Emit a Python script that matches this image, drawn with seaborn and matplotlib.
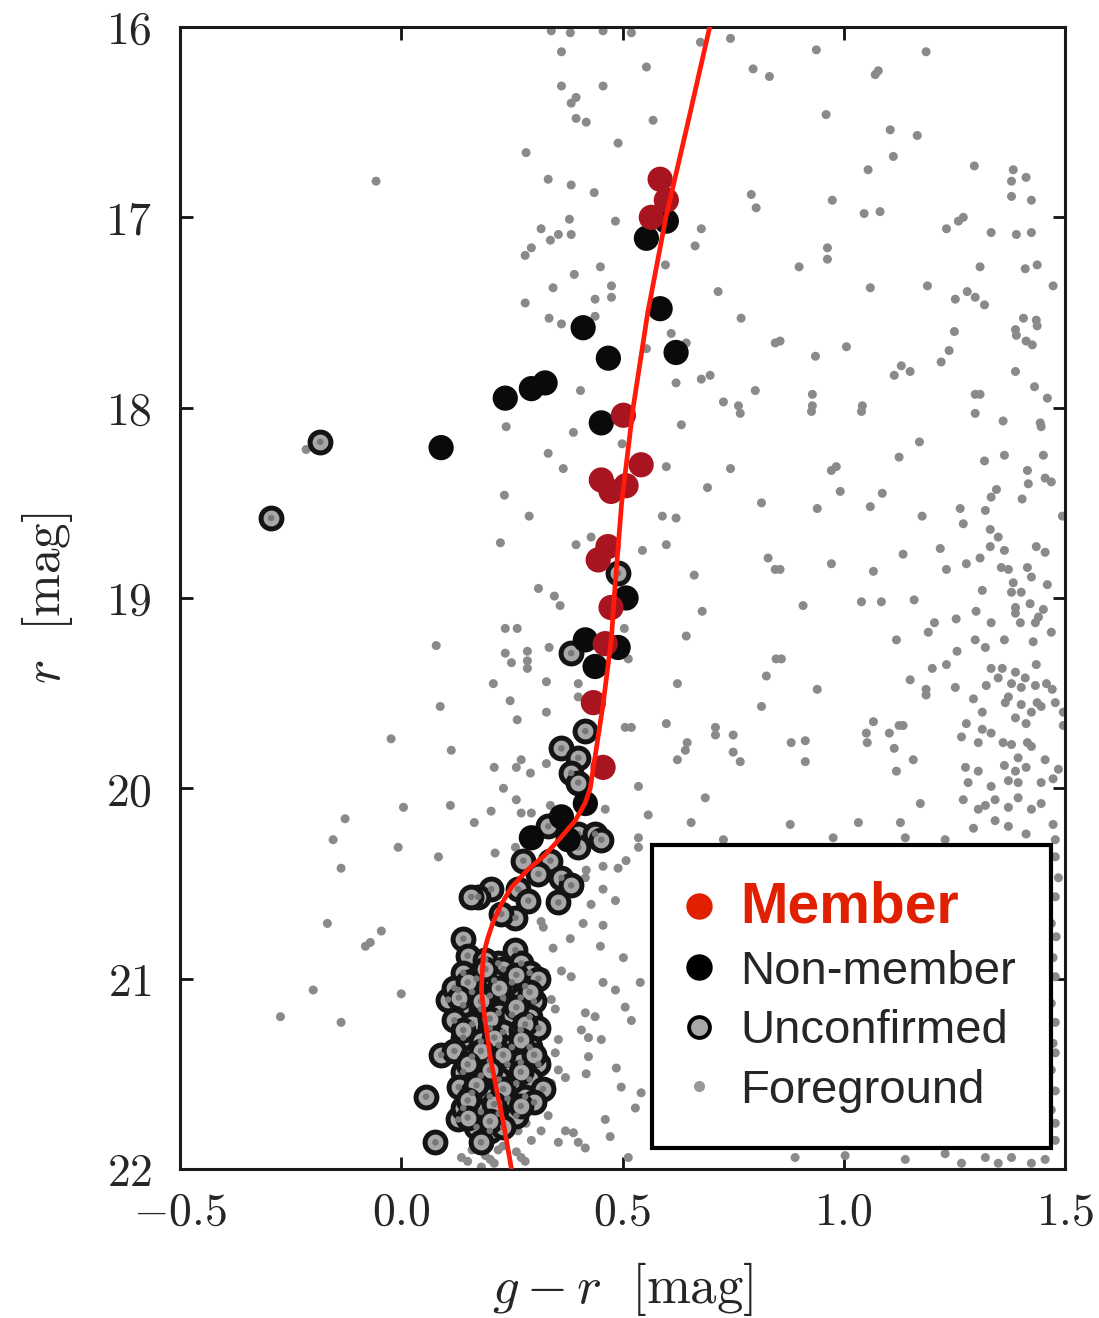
import numpy as np
import pandas as pd
import matplotlib
matplotlib.use("Agg")
import matplotlib.pyplot as plt
import seaborn as sns
from matplotlib.lines import Line2D
from matplotlib.ticker import FuncFormatter

sns.set_style("ticks")
plt.rcParams['font.family'] = ['Liberation Sans', 'DejaVu Sans']
plt.rcParams['mathtext.fontset'] = 'cm'

# ---------------- data ----------------
# isochrone (g-r, r)
iso_g_r = [0.697, 0.648, 0.598, 0.557, 0.524, 0.498, 0.481, 0.475, 0.456, 0.427,
           0.415, 0.393, 0.360, 0.325, 0.285, 0.249, 0.226, 0.208, 0.195, 0.185,
           0.181, 0.190, 0.201, 0.215, 0.231, 0.249]
iso_r = [16.00, 16.50, 17.00, 17.50, 18.00, 18.50, 19.00, 19.21, 19.56, 20.00,
         20.08, 20.17, 20.26, 20.35, 20.43, 20.52, 20.61, 20.70, 20.79, 20.88,
         21.06, 21.23, 21.41, 21.58, 21.76, 22.00]

member_g_r = [0.585, 0.599, 0.565, 0.502, 0.542, 0.452, 0.508, 0.474, 0.467, 0.445,
              0.474, 0.461, 0.434, 0.456]
member_r = [16.80, 16.91, 17.00, 18.04, 18.30, 18.38, 18.41, 18.44, 18.73, 18.80,
            19.05, 19.24, 19.55, 19.89]

nonmember_g_r = [0.599, 0.554, 0.585, 0.411, 0.468, 0.621, 0.235, 0.294, 0.325, 0.452,
                 0.090, 0.508, 0.416, 0.490, 0.438, 0.416, 0.294, 0.362, 0.377]
nonmember_r = [17.02, 17.11, 17.48, 17.58, 17.74, 17.71, 17.95, 17.90, 17.87, 18.08,
               18.21, 19.00, 19.22, 19.26, 19.36, 20.08, 20.26, 20.15, 20.27]

unconf_g_r = [-0.183, -0.294, 0.490, 0.384, 0.416, 0.362, 0.400, 0.384, 0.400,
              0.332, 0.400, 0.438, 0.452, 0.400, 0.276, 0.337, 0.310, 0.362, 0.384,
              0.203, 0.174, 0.264, 0.287, 0.355, 0.258, 0.226, 0.258, 0.271, 0.219,
              0.158, 0.140, 0.106, 0.129, 0.090, 0.056, 0.077, 0.129,
              0.15, 0.19, 0.23, 0.29, 0.14, 0.17, 0.21, 0.25, 0.28, 0.31,
              0.12, 0.16, 0.20, 0.23, 0.27, 0.30, 0.14, 0.18, 0.22, 0.25,
              0.29, 0.12, 0.16, 0.20, 0.23, 0.27, 0.31, 0.14, 0.18, 0.22,
              0.25, 0.29, 0.12, 0.16, 0.20, 0.24, 0.27, 0.31, 0.14, 0.18,
              0.22, 0.26, 0.29, 0.32, 0.13, 0.16, 0.20, 0.24, 0.28, 0.30,
              0.14, 0.18, 0.22, 0.26, 0.17, 0.20, 0.23, 0.18,
              0.19, 0.26, 0.15, 0.22, 0.29, 0.13, 0.18, 0.26, 0.20, 0.28,
              0.14, 0.21, 0.27, 0.18, 0.23, 0.30, 0.15, 0.20, 0.27, 0.17,
              0.23, 0.15, 0.21, 0.27, 0.20, 0.15]
unconf_r = [18.18, 18.58, 18.87, 19.29, 19.70, 19.79, 19.84, 19.92, 19.97,
            20.20, 20.24, 20.24, 20.27, 20.31, 20.38, 20.38, 20.45, 20.47, 20.51,
            20.53, 20.57, 20.53, 20.59, 20.60, 20.68, 20.66, 20.85, 20.92, 20.92,
            20.57, 20.79, 21.11, 21.06, 21.40, 21.62, 21.86, 21.74,
            20.88, 20.90, 20.95, 20.97, 20.97, 21.00, 21.01, 21.02, 21.04, 21.00,
            21.05, 21.07, 21.09, 21.10, 21.10, 21.12, 21.14, 21.16, 21.18, 21.19,
            21.20, 21.22, 21.24, 21.26, 21.28, 21.27, 21.26, 21.31, 21.33, 21.35,
            21.36, 21.36, 21.38, 21.41, 21.43, 21.45, 21.44, 21.45, 21.49, 21.51,
            21.53, 21.55, 21.53, 21.58, 21.57, 21.60, 21.62, 21.63, 21.62, 21.65,
            21.68, 21.70, 21.71, 21.72, 21.78, 21.80, 21.78, 21.86,
            20.95, 20.98, 21.02, 21.05, 21.07, 21.10, 21.12, 21.15, 21.21, 21.24,
            21.27, 21.31, 21.32, 21.38, 21.40, 21.40, 21.45, 21.48, 21.49, 21.56,
            21.58, 21.64, 21.66, 21.67, 21.75, 21.73]

# foreground stars, bright part (r < 18)
fg_bright_g_r = [-0.057, 0.362, 0.382, 0.456, 0.520, 0.339, 0.676, 0.744, 0.554, 0.795,
                 0.832, 0.362, 0.456, 0.395, 0.384, 0.395, 0.418, 0.569, 0.490, 0.282,
                 0.332, 0.384, 0.436, 0.791, 0.802, 0.380, 0.484, 0.316, 0.355, 0.384,
                 0.337, 0.678, 0.664, 0.294, 0.280, 0.597, 0.450, 0.391, 0.343, 0.475,
                 0.716, 0.280, 0.438, 0.475, 0.334, 0.362, 0.438, 0.768, 0.610, 0.644,
                 0.845, 0.554, 0.621, 0.678, 0.698, 0.405, 0.800, 0.728, 0.762,
                 0.938, 1.186, 1.071, 1.078, 0.960, 1.105, 1.166, 1.112, 1.055, 1.295,
                 1.383, 1.412, 1.379, 1.379, 1.424, 0.974, 1.046, 1.082, 1.232, 1.259,
                 1.270, 1.333, 1.390, 1.424, 0.963, 0.963, 0.899, 1.308, 1.410, 1.437,
                 1.473, 1.060, 1.189, 1.252, 1.279, 1.297, 1.318, 1.406, 1.435, 1.437,
                 1.388, 1.390, 1.412, 1.426, 1.250, 1.238, 1.220, 0.856, 1.006, 0.936,
                 1.130, 1.150, 1.114, 1.388, 1.431, 1.460, 1.297, 1.308, 0.929, 0.929,
                 1.042]
fg_bright_r = [16.81, 16.13, 16.03, 16.02, 16.03, 16.02, 16.08, 16.06, 16.21, 16.22,
               16.26, 16.31, 16.31, 16.37, 16.40, 16.48, 16.50, 16.49, 16.61, 16.66,
               16.80, 16.83, 16.87, 16.88, 16.95, 17.01, 17.02, 17.06, 17.09, 17.09,
               17.12, 17.06, 17.15, 17.16, 17.20, 17.25, 17.26, 17.30, 17.37, 17.36,
               17.39, 17.45, 17.43, 17.42, 17.53, 17.56, 17.52, 17.53, 17.61, 17.66,
               17.66, 17.69, 17.87, 17.85, 17.83, 17.91, 17.91, 17.97, 17.99,
               16.12, 16.13, 16.25, 16.23, 16.46, 16.54, 16.57, 16.68, 16.75, 16.73,
               16.75, 16.79, 16.81, 16.89, 16.91, 16.91, 16.98, 16.97, 17.06, 17.02,
               17.00, 17.08, 17.09, 17.08, 17.16, 17.22, 17.26, 17.26, 17.27, 17.25,
               17.36, 17.37, 17.36, 17.43, 17.39, 17.42, 17.46, 17.53, 17.54, 17.57,
               17.59, 17.62, 17.65, 17.67, 17.60, 17.70, 17.76, 17.65, 17.68, 17.73,
               17.78, 17.81, 17.83, 17.81, 17.89, 17.95, 17.93, 17.93, 17.93, 17.99,
               17.99]

# foreground stars, middle part (18 <= r < 20)
fg_mid_g_r = [0.079, 0.088, -0.023, 0.113, -0.215,
              0.237, 0.389, 0.633, 0.766, 0.499, 0.332, 0.366, 0.599, 0.744, 0.692,
              0.233, 0.814, 0.289, 0.590, 0.621, 0.224, 0.395, 0.429, 0.545, 0.599,
              0.829, 0.845, 0.662, 0.310, 0.346, 0.359, 0.680, 0.235, 0.262, 0.644,
              0.504, 0.334, 0.235, 0.249, 0.285, 0.285, 0.285, 0.513, 0.847, 0.208,
              0.328, 0.400, 0.624, 0.825, 0.246, 0.400, 0.328, 0.262, 0.814, 0.506,
              0.520, 0.599, 0.710, 0.710, 0.750, 0.646, 0.642, 0.750, 0.624, 0.766,
              0.210, 0.260, 0.271, 0.292, 0.328, 0.536, 0.231,
              0.927, 1.040, 1.297, 1.360, 1.444, 1.446, 1.171, 1.125, 1.318, 1.363,
              1.451, 1.415, 0.972, 0.983, 1.455, 1.469, 0.992, 1.087, 1.345, 1.333,
              1.417, 1.403, 0.940, 1.060, 1.263, 1.320, 1.177, 1.270, 1.494, 1.331,
              1.349, 1.218, 1.331, 1.363, 1.435, 1.455, 1.134, 1.308, 0.972, 1.067,
              1.232, 1.277, 1.356, 1.372, 1.415, 1.424, 1.383, 1.460, 1.313, 1.379,
              1.401, 0.856, 0.908, 1.040, 1.085, 1.159, 1.421, 1.388, 1.388, 1.299,
              1.254, 1.205, 1.191, 1.333, 1.451, 1.440, 1.433, 1.399, 1.469, 1.119,
              1.297, 1.363, 1.428, 1.320, 1.256, 0.859, 1.200, 1.232, 1.333, 1.358,
              1.435, 1.388, 1.349, 1.410, 1.379, 1.322, 1.150, 0.940, 1.186, 1.186,
              1.252, 1.401, 1.433, 1.458, 1.471, 1.372, 1.293, 1.365, 1.401, 1.437,
              1.446, 1.478, 1.313, 1.424, 1.388, 1.496, 1.067, 1.125, 1.134, 1.277,
              1.412, 1.496, 1.051, 1.103, 1.313, 1.333, 1.266, 0.881, 0.913, 1.053,
              1.304, 1.360, 1.379, 1.415, 1.424, 1.114, 0.913, 1.157, 1.394, 1.455,
              1.363, 1.275, 1.304, 1.119, 1.388, 1.412, 1.485, 1.281, 1.333, 1.372,
              1.394, 1.446, 1.473]
fg_mid_r = [19.25, 19.57, 19.74, 19.80, 18.22,
            18.10, 18.13, 18.09, 18.03, 18.19, 18.24, 18.32, 18.31, 18.32, 18.42,
            18.46, 18.50, 18.57, 18.57, 18.58, 18.71, 18.72, 18.68, 18.75, 18.72,
            18.79, 18.85, 18.88, 18.95, 18.99, 19.04, 19.07, 19.16, 19.16, 19.20,
            19.16, 19.26, 19.29, 19.34, 19.28, 19.33, 19.37, 19.32, 19.32, 19.45,
            19.44, 19.45, 19.45, 19.41, 19.54, 19.52, 19.60, 19.64, 19.57, 19.68,
            19.68, 19.66, 19.68, 19.72, 19.72, 19.76, 19.80, 19.81, 19.85, 19.86,
            19.89, 19.89, 19.85, 19.92, 19.87, 19.99, 20.00,
            18.02, 18.02, 18.03, 18.07, 18.08, 18.10, 18.18, 18.26, 18.28, 18.25,
            18.25, 18.33, 18.33, 18.31, 18.37, 18.39, 18.44, 18.45, 18.43, 18.47,
            18.40, 18.48, 18.53, 18.52, 18.53, 18.54, 18.57, 18.61, 18.57, 18.64,
            18.68, 18.74, 18.73, 18.75, 18.73, 18.76, 18.77, 18.79, 18.82, 18.86,
            18.85, 18.82, 18.84, 18.85, 18.84, 18.89, 18.92, 18.93, 18.96, 18.97,
            18.97, 18.85, 19.04, 19.02, 19.02, 19.01, 19.03, 19.05, 19.08, 19.07,
            19.11, 19.13, 19.18, 19.13, 19.06, 19.10, 19.13, 19.13, 19.18, 19.22,
            19.22, 19.22, 19.23, 19.26, 19.28, 19.32, 19.37, 19.35, 19.37, 19.37,
            19.35, 19.39, 19.42, 19.42, 19.45, 19.46, 19.43, 19.48, 19.48, 19.51,
            19.47, 19.47, 19.46, 19.45, 19.48, 19.52, 19.53, 19.55, 19.56, 19.55,
            19.57, 19.55, 19.60, 19.60, 19.63, 19.60, 19.65, 19.67, 19.67, 19.66,
            19.66, 19.67, 19.71, 19.71, 19.69, 19.71, 19.73, 19.76, 19.75, 19.76,
            19.76, 19.76, 19.77, 19.76, 19.78, 19.79, 19.86, 19.85, 19.84, 19.85,
            19.88, 19.89, 19.91, 19.91, 19.91, 19.89, 19.90, 19.97, 19.99, 19.96,
            19.97, 19.97, 19.95]

# foreground stars, faint part (r >= 20)
fg_faint_g_r = [0.005, 0.111, -0.127, 0.165, -0.154, -0.007, 0.084, -0.136, -0.167, -0.045,
                -0.070, -0.081, -0.199, 0.000, -0.273, -0.136, 0.136,
                0.203, 0.260, 0.271, 0.294, 0.337, 0.461, 0.558, 0.687, 0.655, 0.728,
                0.536, 0.536, 0.212, 0.258, 0.508, 0.490, 0.456, 0.418, 0.416, 0.484,
                0.456, 0.429, 0.316, 0.321, 0.411, 0.456, 0.382, 0.343, 0.450, 0.502,
                0.325, 0.362, 0.384, 0.456, 0.484, 0.540, 0.339, 0.348, 0.506, 0.416,
                0.438, 0.520, 0.310, 0.407, 0.423, 0.452, 0.355, 0.348, 0.328, 0.423,
                0.486, 0.355, 0.371, 0.418, 0.497, 0.339, 0.542, 0.529, 0.310, 0.332,
                0.282, 0.461, 0.264, 0.316, 0.371, 0.389, 0.400, 0.416, 0.294, 0.355,
                0.472, 0.513, 0.197, 0.219, 0.271, 0.201, 0.181,
                0.16, 0.19, 0.23, 0.26, 0.21, 0.28, 0.15,
                1.173, 1.270, 1.304, 1.320, 1.342, 1.372, 1.394, 1.424, 1.446, 1.342,
                1.372, 1.412, 1.293, 0.879, 1.033, 1.128, 1.139, 1.229, 0.976, 1.473,
                1.478, 1.478, 1.485, 1.478, 1.469, 1.480, 1.473, 1.478, 1.469, 1.478,
                1.473, 1.478, 1.469, 1.478, 1.469, 1.478, 1.478, 0.890, 1.003, 1.139,
                1.229, 1.266, 1.320, 1.349, 1.379, 1.424, 1.455]
fg_faint_r = [20.10, 20.09, 20.16, 20.18, 20.27, 20.31, 20.36, 20.42, 20.71, 20.75,
              20.81, 20.83, 21.06, 21.08, 21.20, 21.23, 21.94,
              20.12, 20.06, 20.13, 20.13, 20.09, 20.11, 20.14, 20.05, 20.18, 20.27,
              20.26, 20.31, 20.34, 20.31, 20.38, 20.42, 20.41, 20.43, 20.47, 20.59,
              20.53, 20.61, 20.70, 20.73, 20.71, 20.72, 20.79, 20.84, 20.83, 20.89,
              20.97, 20.96, 20.99, 21.02, 21.06, 21.02, 21.11, 21.16, 21.15, 21.18,
              21.20, 21.22, 21.23, 21.27, 21.31, 21.32, 21.32, 21.39, 21.43, 21.41,
              21.47, 21.48, 21.52, 21.50, 21.57, 21.55, 21.60, 21.68, 21.69, 21.72,
              21.76, 21.74, 21.80, 21.80, 21.80, 21.81, 21.86, 21.89, 21.85, 21.86,
              21.83, 21.94, 21.85, 21.90, 21.94, 21.95, 21.99,
              21.90, 21.93, 21.88, 21.91, 21.97, 21.96, 21.96,
              20.08, 20.06, 20.11, 20.09, 20.06, 20.10, 20.05, 20.11, 20.08, 20.17,
              20.20, 20.24, 20.21, 20.19, 20.18, 20.18, 20.26, 20.27, 20.26, 20.19,
              20.27, 20.36, 20.47, 20.57, 20.71, 20.78, 20.89, 20.99, 21.13, 21.23,
              21.34, 21.39, 21.48, 21.59, 21.69, 21.76, 21.85, 21.94, 21.93, 21.95,
              21.92, 21.97, 21.94, 21.97, 21.94, 21.97, 21.95]

x_ticks = [-0.5, 0.0, 0.5, 1.0, 1.5]
y_ticks = [16, 17, 18, 19, 20, 21, 22]
legend_labels = ["Member", "Non-member", "Unconfirmed", "Foreground"]

# ---------------- frames ----------------
fg = pd.DataFrame({"g_r": fg_bright_g_r + fg_mid_g_r + fg_faint_g_r,
                   "r": fg_bright_r + fg_mid_r + fg_faint_r})
unc = pd.DataFrame({"g_r": unconf_g_r, "r": unconf_r})
non = pd.DataFrame({"g_r": nonmember_g_r, "r": nonmember_r})
mem = pd.DataFrame({"g_r": member_g_r, "r": member_r})
iso = pd.DataFrame({"g_r": iso_g_r, "r": iso_r})

# ---------------- figure ----------------
fig = plt.figure(figsize=(10.99, 13.18), dpi=100)
ax = fig.add_axes([0.1638, 0.1131, 0.8053, 0.8664])

sns.scatterplot(data=fg, x="g_r", y="r", s=42, color="#8a8a8a", edgecolor="none",
                ax=ax, zorder=2, legend=False)
sns.scatterplot(data=unc, x="g_r", y="r", s=225, color="#a8a8a8", edgecolor="#141414",
                linewidth=3.6, ax=ax, zorder=3, legend=False)
sns.scatterplot(data=unc, x="g_r", y="r", s=22, color="#777777", edgecolor="none",
                ax=ax, zorder=3.1, legend=False)
sns.scatterplot(data=non, x="g_r", y="r", s=330, color="#0a0a0a", edgecolor="none",
                ax=ax, zorder=4, legend=False)
sns.scatterplot(data=mem, x="g_r", y="r", s=330, color="#a8141f", edgecolor="none",
                ax=ax, zorder=5, legend=False)
sns.lineplot(data=iso, x="g_r", y="r", sort=False, estimator=None, color="#ff1a0a",
             linewidth=3.4, ax=ax, zorder=6)

ax.set_xlim(-0.5, 1.5)
ax.set_ylim(22, 16)
ax.set_xticks(x_ticks)
ax.set_yticks(y_ticks)
ax.xaxis.set_major_formatter(FuncFormatter(lambda v, p: r"$%.1f$" % v))
ax.yaxis.set_major_formatter(FuncFormatter(lambda v, p: r"$%d$" % v))
ax.tick_params(direction="in", length=9, width=2.0, top=True, right=True,
               labelsize=33, color="#111111")
ax.tick_params(axis="y", pad=20)
ax.tick_params(axis="x", pad=16)
for sp in ax.spines.values():
    sp.set_linewidth(2.2)
    sp.set_color("#1a1a1a")

ax.set_xlabel(r"$g - r\ \ [\mathrm{mag}]$", fontsize=38, labelpad=18)
ax.set_ylabel(r"$r\ \ [\mathrm{mag}]$", fontsize=37, labelpad=22)

handles = [
    Line2D([], [], ls="none", marker="o", markersize=19, markerfacecolor="#e02000",
           markeredgecolor="none"),
    Line2D([], [], ls="none", marker="o", markersize=19, markerfacecolor="#000000",
           markeredgecolor="none"),
    Line2D([], [], ls="none", marker="o", markersize=15, markerfacecolor="#a8a8a8",
           markeredgecolor="#000000", markeredgewidth=2.8),
    Line2D([], [], ls="none", marker="o", markersize=8, markerfacecolor="#999999",
           markeredgecolor="none"),
]
leg = ax.legend(handles, legend_labels, loc="upper left", bbox_to_anchor=(0.533, 0.284),
                fontsize=34, frameon=True, fancybox=False, edgecolor="black",
                framealpha=1, borderpad=0.75, labelspacing=0.33, handlelength=0.5,
                handletextpad=0.62, borderaxespad=0)
leg.get_frame().set_linewidth(3.0)
leg.set_zorder(10)
t0 = leg.get_texts()[0]
t0.set_color("#e02000")
t0.set_fontweight("bold")
t0.set_fontsize(41)

fig.savefig("out.png", dpi=100)
